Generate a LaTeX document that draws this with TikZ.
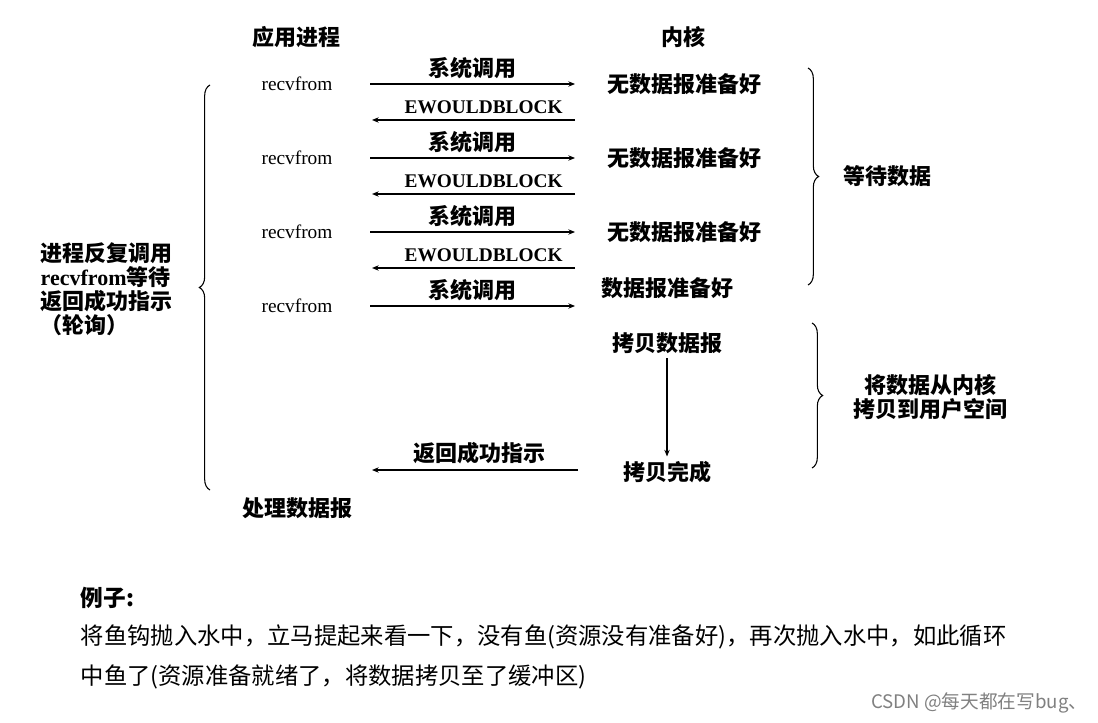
\documentclass[tikz,border=0pt]{standalone}
\usepackage{fontspec}
\setmainfont{Liberation Serif}
\newfontfamily\cjk{Noto Sans CJK SC}
\usetikzlibrary{decorations.pathreplacing,arrows.meta}
\begin{document}
\begin{tikzpicture}[x=0.75pt,y=-0.75pt,
  lbl/.style={font=\cjk\bfseries\fontsize{16.5}{18}\selectfont},
  rv/.style={font=\fontsize{14.5}{16}\selectfont},
  eb/.style={font=\bfseries\fontsize{14.5}{16}\selectfont},
  arr/.style={-{Stealth[length=5pt,width=4pt]},line width=0.8pt},
  br/.style={decorate,decoration={brace,amplitude=8pt},line width=0.8pt}]
\useasboundingbox (0,0) rectangle (1098,723);
\node[lbl] (h1) at (296,37) {应用进程};
\node[lbl] (h2) at (683,37) {内核};
\foreach \i/\y in {1/84,2/158,3/232,4/306}{
  \node[rv] (r\i) at (297,\y) {recvfrom};
  \coordinate (a\i) at (370,\y); \coordinate (b\i) at (575,\y);
  \draw[arr] (a\i) -- (b\i) node[midway,above=0pt,lbl] (s\i) {系统调用};
}
\foreach \i/\y in {1/120,2/194,3/268}{
  \coordinate (c\i) at (575,\y); \coordinate (d\i) at (372,\y);
  \draw[arr] (c\i) -- (d\i) node[pos=0.45,above=1pt,eb] (e\i) {EWOULDBLOCK};
}
\node[lbl] (k1) at (684,84) {无数据报准备好};
\node[lbl] (k2) at (684,158) {无数据报准备好};
\node[lbl] (k3) at (684,232) {无数据报准备好};
\node[lbl] (k4) at (667,288) {数据报准备好};
\node[lbl] (k5) at (667,343) {拷贝数据报};
\node[lbl] (k6) at (667,472) {拷贝完成};
\draw[arr] (k5) -- (k6);
\coordinate (f1) at (578,470); \coordinate (f2) at (372,470);
\draw[arr] (f1) -- (f2) node[pos=0.48,above=1pt,lbl] (rt) {返回成功指示};
\draw[br] (808,68) -- (808,285);
\node[lbl] (w) at (887,176) {等待数据};
\draw[br] (812,323) -- (812,468);
\node[lbl,align=center] (cp) at (930,397) {将数据从内核\\拷贝到用户空间};
\draw[br] (210,490) -- (210,85);
\node[lbl,align=left,anchor=west] (poll) at (36,289) {进程反复调用\\{\rmfamily recvfrom}等待\\返回成功指示\\（轮询）};
\node[lbl] (p) at (297,508) {处理数据报};
\node[anchor=west,font=\cjk\bfseries\fontsize{17}{20}\selectfont] (ex) at (76,598) {例子:};
\node[anchor=west,font=\cjk\fontsize{17.5}{20}\selectfont] (t1) at (76,637) {将鱼钩抛入水中，立马提起来看一下，没有鱼(资源没有准备好)，再次抛入水中，如此循环};
\node[anchor=west,font=\cjk\fontsize{17.5}{20}\selectfont] (t2) at (76,677) {中鱼了(资源准备就绪了，将数据拷贝至了缓冲区)};
\node[anchor=east,text=gray,font=\cjk\fontsize{14}{16}\selectfont] (wm) at (1092,703) {CSDN @每天都在写bug、};
\end{tikzpicture}
\end{document}
